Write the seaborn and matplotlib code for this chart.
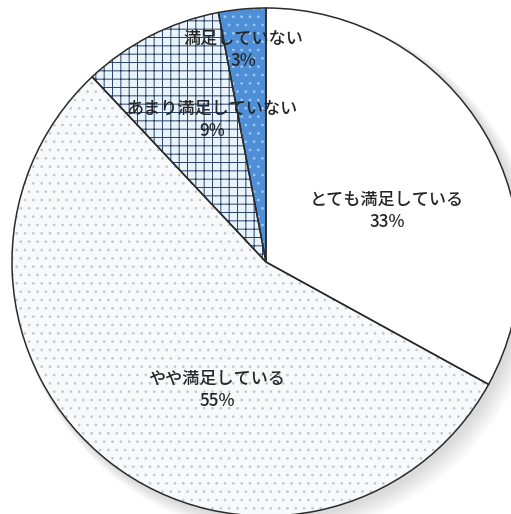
import matplotlib
matplotlib.use('Agg')
import matplotlib.pyplot as plt
import matplotlib.patches as mpatches
import seaborn as sns

# data
labels = ['とても満足している', 'やや満足している', 'あまり満足していない', '満足していない']
shares = [33, 55, 9, 3]

# look
fills = ['#ffffff', '#f7f9fa', '#e8f3fb', '#4f8fd8']
hatch_cols = ['#ffffff', '#c3c8cc', '#2a4266', '#9fc8f0']
hatches = [None, '..', '++', '..']
# label centres, offset from pie centre in pixels
label_off = [(121, 51), (-49, -128), (-54, 142), (-23, 212)]

sns.set_theme(style='white')
plt.rcParams['font.family'] = ['Noto Sans CJK JP', 'DejaVu Sans']
plt.rcParams['hatch.linewidth'] = 0.7

fig = plt.figure(figsize=(5.11, 5.14), dpi=100)
ax = fig.add_axes([0, 0, 1, 1])
cx, cy, r = 266, 252, 254

# soft shadow to the lower right
for i in range(12):
    ax.add_patch(mpatches.Circle((cx + 3 + i * 0.8, cy - 3 - i * 0.8), r + 1 + i * 0.6,
                                 color='#000000', alpha=0.012, lw=0, zorder=0))

# fills + hatches (hatch colour follows edgecolor)
wedges, _ = ax.pie(shares, startangle=90, counterclock=False, center=(cx, cy), radius=r,
                   colors=fills, wedgeprops=dict(linewidth=0))
for w, h, hc in zip(wedges, hatches, hatch_cols):
    w.set_zorder(1)
    if h:
        w.set_hatch(h)
        w.set_edgecolor(hc)

# outlines on top
outl, _ = ax.pie(shares, startangle=90, counterclock=False, center=(cx, cy), radius=r,
                 wedgeprops=dict(fill=False, edgecolor='#2b2b2b', linewidth=1.1))
for w in outl:
    w.set_zorder(2)

for lab, v, (dx, dy) in zip(labels, shares, label_off):
    ax.text(cx + dx, cy + dy, f'{lab}\n{v}%', ha='center', va='center',
            fontsize=12.3, color='#262626', fontweight='medium', linespacing=1.3, zorder=3)

ax.set_xlim(0, 511)
ax.set_ylim(0, 514)
ax.set_aspect('equal')
ax.axis('off')
fig.savefig('out.png', dpi=100, facecolor='white')
